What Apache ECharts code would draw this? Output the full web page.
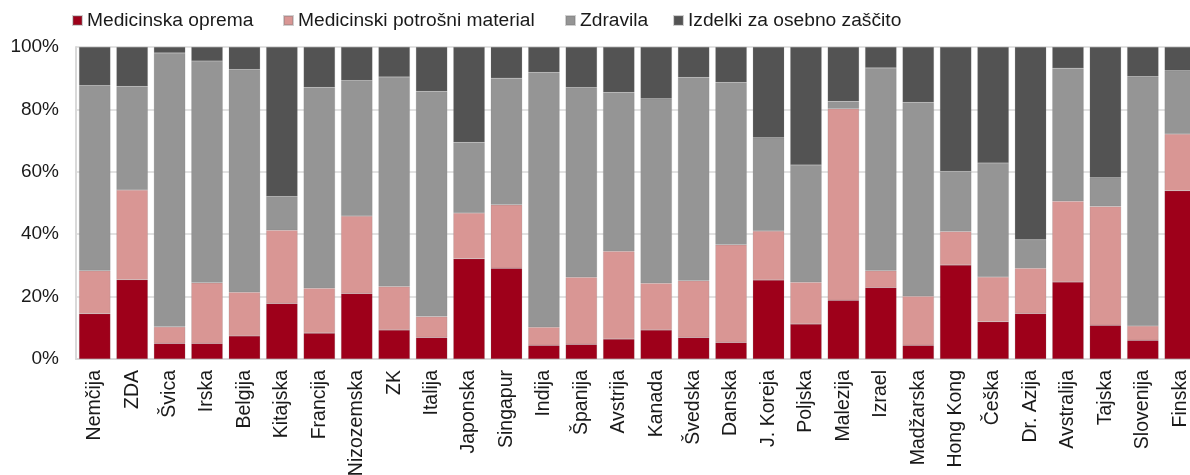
<!DOCTYPE html>
<html>
<head>
<meta charset="utf-8">
<script src="https://cdn.jsdelivr.net/npm/echarts@6/dist/echarts.min.js"></script>
<style>
html,body{margin:0;padding:0;background:#fff;}
#chart{width:1190px;height:475px;}
</style>
</head>
<body>
<div id="chart"></div>
<script>
const categories = ["Nemčija","ZDA","Švica","Irska","Belgija","Kitajska","Francija","Nizozemska","ZK","Italija","Japonska","Singapur","Indija","Španija","Avstrija","Kanada","Švedska","Danska","J. Koreja","Poljska","Malezija","Izrael","Madžarska","Hong Kong","Češka","Dr. Azija","Avstralija","Tajska","Slovenija","Finska"];
const seriesNames = ["Medicinska oprema","Medicinski potrošni material","Zdravila","Izdelki za osebno zaščito"];
const opremaValues   = [14.5,25.4,5.0,5.0,7.4,17.8,8.3,21.0,9.3,6.9,32.1,29.1,4.4,4.7,6.4,9.3,6.9,5.3,25.3,11.2,18.8,22.9,4.4,30.1,11.9,14.6,24.7,10.8,6.0,53.9];
const potrosniValues = [13.8,28.8,5.3,19.4,14.0,23.5,14.4,24.8,13.9,6.7,14.7,20.3,5.8,21.5,28.1,15.0,18.2,31.3,15.7,13.4,61.4,5.4,15.7,10.8,14.4,14.5,25.9,38.1,4.6,18.2];
const zdravilaValues = [59.4,33.2,87.8,71.1,71.4,10.8,64.4,43.5,67.2,72.2,22.7,40.6,81.7,60.8,51.0,59.1,65.2,52.1,29.9,37.6,2.4,65.0,62.2,19.3,36.5,9.1,42.6,9.2,79.9,20.3];
const izdelkiValues  = [12.3,12.6,1.9,4.5,7.2,47.9,12.9,10.7,9.6,14.2,30.5,10.0,8.1,13.0,14.5,16.6,9.7,11.3,29.1,37.8,17.4,6.7,17.7,39.8,37.2,61.8,6.8,41.9,9.5,7.6];
const yTicks = [0,20,40,60,80,100];

const colors = ["#9E001A","#D99694","#959595","#535353"];
const allValues = [opremaValues, potrosniValues, zdravilaValues, izdelkiValues];
const legendLeft = [72, 283, 565, 673];

const chart = echarts.init(document.getElementById('chart'));
const font = "'Liberation Sans', Arial, sans-serif";
chart.setOption({
  animation: false,
  color: colors,
  textStyle: { fontFamily: font },
  legend: seriesNames.map((n, i) => ({
    left: legendLeft[i], top: 11, padding: 0,
    itemWidth: 9, itemHeight: 9,
    icon: 'rect',
    textStyle: { fontSize: 19.2, color: '#1a1a1a', fontFamily: font },
    data: [n]
  })),
  grid: { left: 76, right: -9, top: 47, bottom: 116, containLabel: false, outerBoundsMode: 'none' },
  xAxis: {
    type: 'category',
    data: categories,
    axisLine: { show: true, lineStyle: { color: '#D9D9D9', width: 2 } },
    axisTick: { show: false },
    axisLabel: { rotate: 90, fontSize: 19.5, color: '#1a1a1a', margin: 11, interval: 0, fontFamily: font }
  },
  yAxis: {
    type: 'value', min: yTicks[0], max: yTicks[yTicks.length-1], interval: 20,
    axisLine: { show: true, lineStyle: { color: '#D9D9D9', width: 2 } },
    axisTick: { show: false },
    splitLine: { show: true, lineStyle: { color: '#D9D9D9', width: 1.5 } },
    axisLabel: { formatter: '{value}%', fontSize: 19, color: '#1a1a1a', margin: 17, fontFamily: font }
  },
  series: seriesNames.map((n, i) => ({
    name: n, type: 'bar', stack: 'total',
    barCategoryGap: '16%',
    data: allValues[i],
    itemStyle: { color: colors[i], borderColor: 'rgba(120,120,120,0.35)', borderWidth: 0.5 }
  }))
});
</script>
</body>
</html>
